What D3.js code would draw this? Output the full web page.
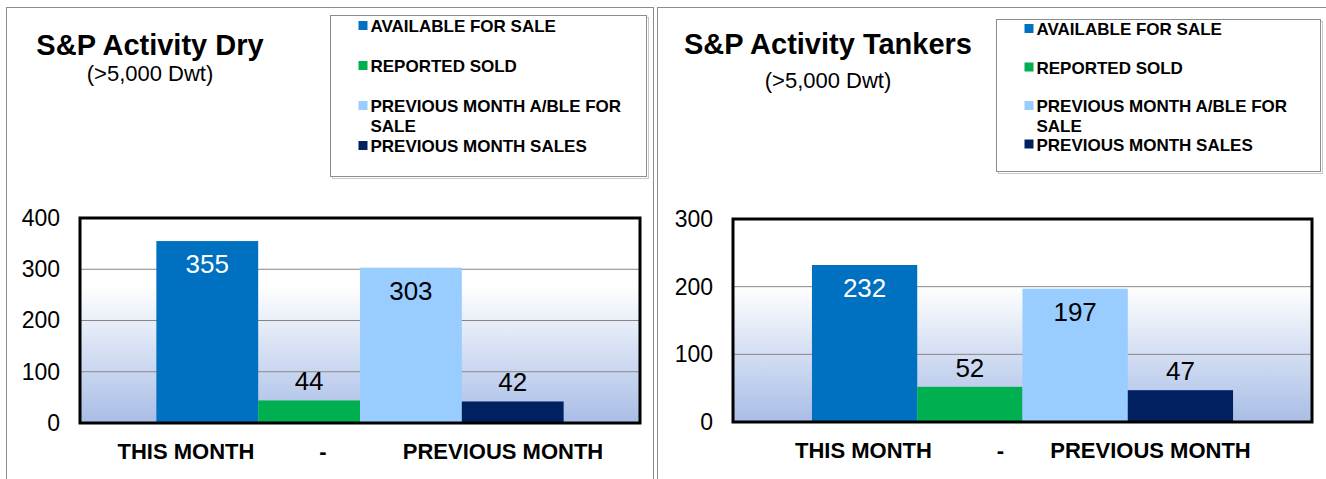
<!DOCTYPE html>
<html lang="en">
<head>
<meta charset="UTF-8">
<title>S&amp;P Activity</title>
<style>
    body { margin: 0; background: #fff; }
    svg { display: block; font-family: "Liberation Sans", Arial, sans-serif; }
</style>
</head>
<body>
<svg id="chart" width="1326" height="479"></svg>
<script src="https://cdn.jsdelivr.net/npm/d3@7/dist/d3.min.js"></script>
<script>
    // data
    const seriesNames = ["AVAILABLE FOR SALE", "REPORTED SOLD", "PREVIOUS MONTH A/BLE FOR SALE", "PREVIOUS MONTH SALES"];
    const seriesColors = ["#0070c0", "#00b050", "#99ccff", "#002060"];
    const categories = ["THIS MONTH - PREVIOUS MONTH"];
    const categoryParts = ["THIS MONTH", "-", "PREVIOUS MONTH"];
    const dryValues = [355, 44, 303, 42];
    const tankerValues = [232, 52, 197, 47];
    const dryTicks = [0, 100, 200, 300, 400];
    const tankerTicks = [0, 100, 200, 300];
    const subtitle = "(>5,000 Dwt)";

    // layout for the two panels
    const panels = [
        {
            id: "dry", title: "S&P Activity Dry", values: dryValues, ticks: dryTicks,
            frame: {x: 6.5, y: 7.5, w: 647, h: 520},
            titleX: 150, titleY: 55, subY: 81,
            legend: {x: 330.5, y: 15.5, w: 316, h: 161, first: 26, step: 40},
            plot: {left: 80, right: 640, top: 218, bottom: 423},
            partOffsets: [-174, -37, 143]
        },
        {
            id: "tank", title: "S&P Activity Tankers", values: tankerValues, ticks: tankerTicks,
            frame: {x: 657.5, y: 7.5, w: 700, h: 520},
            titleX: 828, titleY: 54, subY: 88,
            legend: {x: 996.5, y: 19.5, w: 324, h: 152, first: 29, step: 38.5},
            plot: {left: 733, right: 1312, top: 219, bottom: 422},
            partOffsets: [-159, -22, 128]
        }
    ];

    const svg = d3.select("#chart");

    const defs = svg.append("defs");
    const grad = defs.append("linearGradient")
        .attr("id", "plotFill")
        .attr("x1", 0).attr("y1", 0).attr("x2", 0).attr("y2", 1);
    grad.append("stop").attr("offset", "0%").attr("stop-color", "#ffffff");
    grad.append("stop").attr("offset", "33%").attr("stop-color", "#ffffff");
    grad.append("stop").attr("offset", "100%").attr("stop-color", "#a8bde6");

    panels.forEach(p => drawPanel(p));

    function drawPanel(p) {
        const g = svg.append("g").attr("class", "panel-" + p.id);

        // outer frame
        g.append("rect")
            .attr("x", p.frame.x).attr("y", p.frame.y)
            .attr("width", p.frame.w).attr("height", p.frame.h)
            .attr("fill", "none").attr("stroke", "#8c8c8c");

        // titles
        g.append("text")
            .attr("x", p.titleX).attr("y", p.titleY)
            .attr("text-anchor", "middle")
            .style("font-size", "29px").style("font-weight", "bold")
            .text(p.title);
        g.append("text")
            .attr("x", p.titleX).attr("y", p.subY)
            .attr("text-anchor", "middle")
            .style("font-size", "22px")
            .text(subtitle);

        // legend
        const L = p.legend;
        g.append("rect")
            .attr("x", L.x + 2).attr("y", L.y + 2)
            .attr("width", L.w).attr("height", L.h)
            .attr("fill", "none").attr("stroke", "#c8c8c8");
        g.append("rect")
            .attr("x", L.x).attr("y", L.y)
            .attr("width", L.w).attr("height", L.h)
            .attr("fill", "#fff").attr("stroke", "#8c8c8c");

        const items = g.selectAll("g.legend-item")
            .data(seriesNames)
            .join("g")
            .attr("class", "legend-item")
            .attr("transform", (d, i) => `translate(${L.x + 28}, ${L.first + i * L.step})`);

        items.append("rect")
            .attr("x", 0).attr("y", -5)
            .attr("width", 9).attr("height", 9)
            .attr("fill", (d, i) => seriesColors[i]);

        items.append("text")
            .attr("x", 12).attr("y", 6)
            .style("font-size", "17px").style("font-weight", "bold")
            .each(function (d) {
                wrap(d3.select(this), d, L.w - 46);
            });

        // plot area
        const P = p.plot;
        const y = d3.scaleLinear()
            .domain([0, d3.max(p.ticks)])
            .range([P.bottom, P.top]);

        const xOuter = d3.scaleBand()
            .domain(categories)
            .range([P.left, P.right])
            .padding(0);

        const xInner = d3.scaleBand()
            .domain(d3.range(seriesNames.length))
            .range([0, xOuter.bandwidth()])
            .paddingInner(0)
            .paddingOuter(0.75);

        g.append("rect")
            .attr("x", P.left).attr("y", P.top)
            .attr("width", P.right - P.left).attr("height", P.bottom - P.top)
            .attr("fill", "url(#plotFill)");

        g.append("g")
            .selectAll("line")
            .data(p.ticks.filter(t => t > 0 && t < d3.max(p.ticks)))
            .join("line")
            .attr("x1", P.left).attr("x2", P.right)
            .attr("y1", d => y(d)).attr("y2", d => y(d))
            .attr("stroke", "#868686").attr("stroke-width", 1);

        const yAxis = g.append("g")
            .attr("transform", `translate(${P.left - 20}, 0)`)
            .call(d3.axisLeft(y).tickValues(p.ticks).tickSize(0).tickPadding(0));
        yAxis.select(".domain").remove();
        yAxis.selectAll("text")
            .style("font-family", "'Liberation Sans', Arial, sans-serif")
            .style("font-size", "23px")
            .attr("fill", "#000");

        const data = p.values.map((v, i) => ({cat: categories[0], i: i, v: v}));

        g.append("g")
            .selectAll("rect")
            .data(data)
            .join("rect")
            .attr("x", d => xOuter(d.cat) + xInner(d.i))
            .attr("y", d => y(d.v))
            .attr("width", xInner.bandwidth())
            .attr("height", d => y(0) - y(d.v))
            .attr("fill", d => seriesColors[d.i]);

        // data labels: inside end for tall bars, outside end for short ones
        g.append("g")
            .selectAll("text")
            .data(data)
            .join("text")
            .attr("x", d => xOuter(d.cat) + xInner(d.i) + xInner.bandwidth() / 2)
            .attr("y", d => (y(0) - y(d.v) > 80) ? y(d.v) + 32 : y(d.v) - 10)
            .attr("text-anchor", "middle")
            .style("font-size", "26px")
            .attr("fill", d => (y(0) - y(d.v) > 80 && d.i === 0) ? "#fff" : "#000")
            .text(d => d.v);

        // plot border
        g.append("rect")
            .attr("x", P.left).attr("y", P.top)
            .attr("width", P.right - P.left).attr("height", P.bottom - P.top)
            .attr("fill", "none").attr("stroke", "#000").attr("stroke-width", 3);

        // category label
        const cx = xOuter(categories[0]) + xOuter.bandwidth() / 2;
        g.append("g")
            .selectAll("text")
            .data(categoryParts)
            .join("text")
            .attr("x", (d, i) => cx + p.partOffsets[i])
            .attr("y", P.bottom + 36)
            .attr("text-anchor", "middle")
            .style("font-size", "22px").style("font-weight", "bold")
            .text(d => d);
    }

    function wrap(text, str, maxWidth) {
        const words = str.split(" ");
        let line = [];
        let tspan = text.append("tspan").attr("x", 12).attr("dy", 0);
        words.forEach(w => {
            line.push(w);
            tspan.text(line.join(" "));
            if (tspan.node().getComputedTextLength() > maxWidth && line.length > 1) {
                line.pop();
                tspan.text(line.join(" "));
                line = [w];
                tspan = text.append("tspan").attr("x", 12).attr("dy", 20).text(w);
            }
        });
    }
</script>
</body>
</html>
